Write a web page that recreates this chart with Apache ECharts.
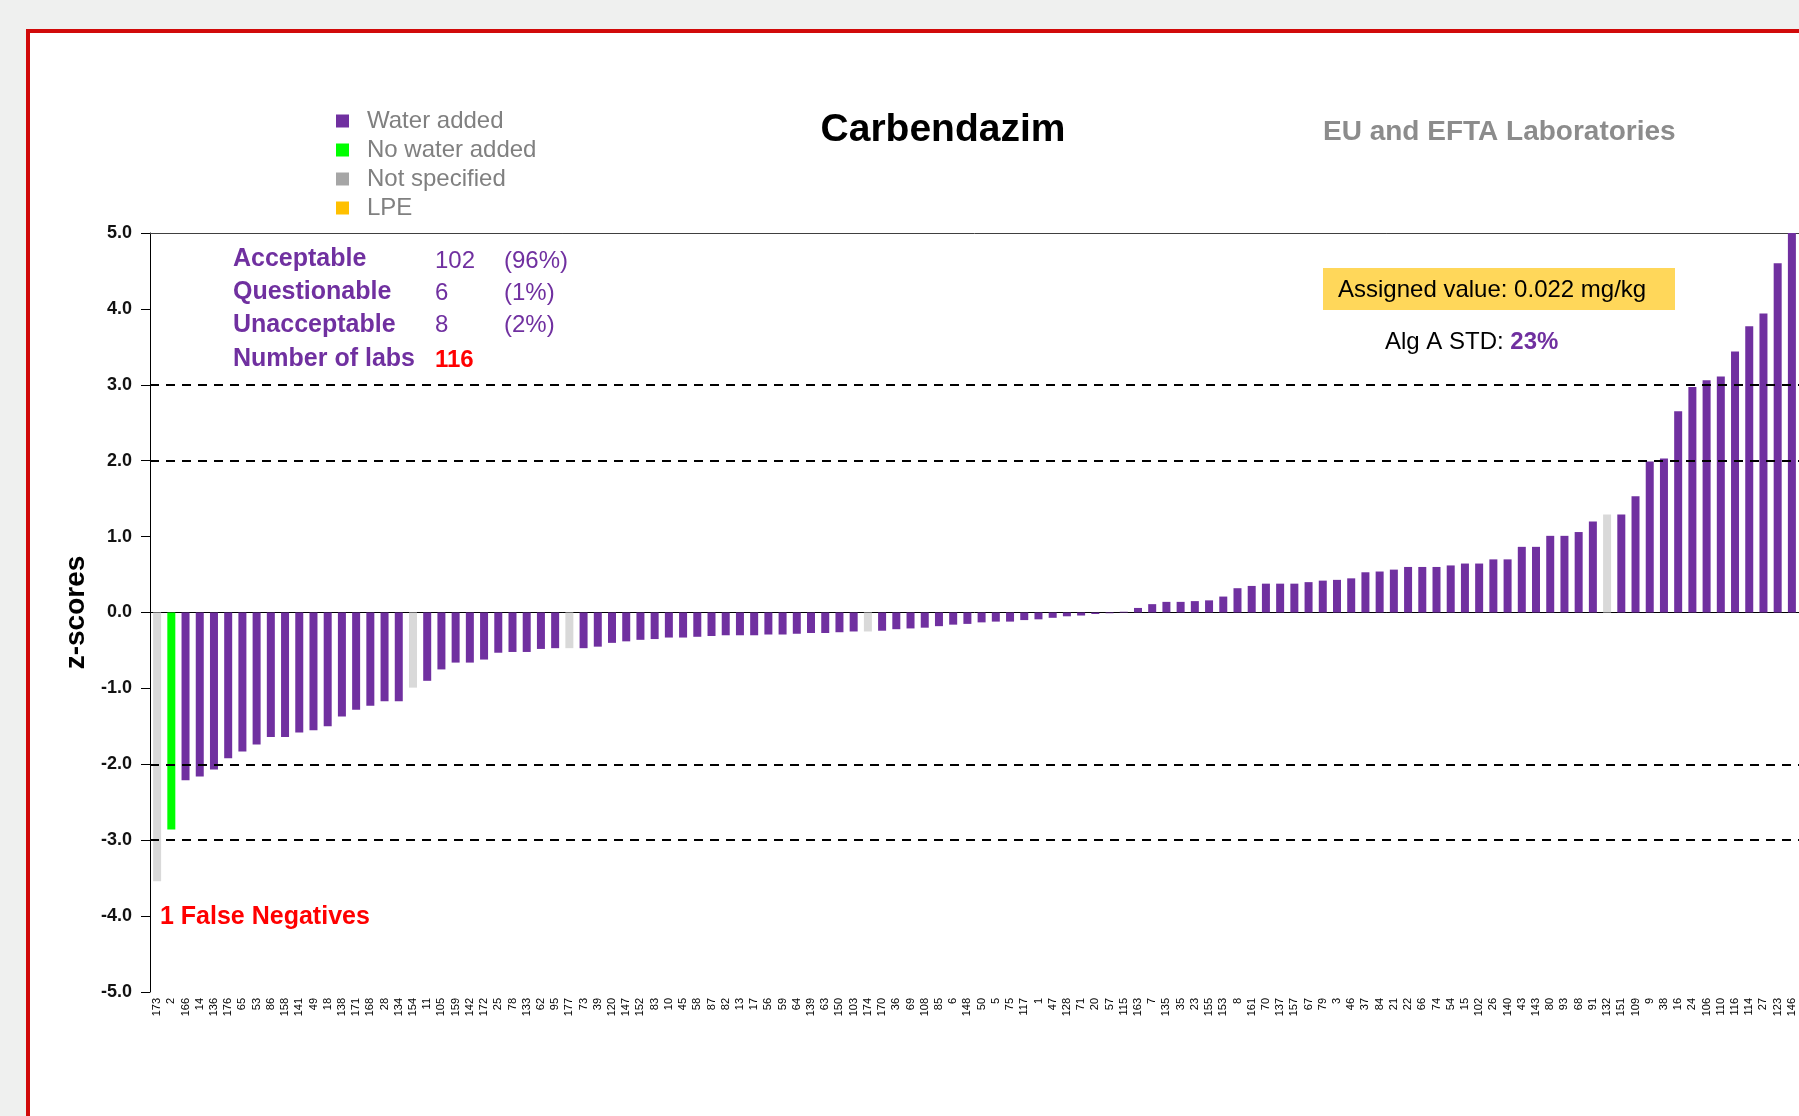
<!DOCTYPE html>
<html>
<head>
<meta charset="utf-8">
<title>Carbendazim z-scores</title>
<script src="https://cdn.jsdelivr.net/npm/echarts@6/dist/echarts.min.js"></script>
<style>
  html, body { margin: 0; padding: 0; background: #eff0ef; overflow: hidden; }
  #frame { position: absolute; left: 26px; top: 29px; width: 2000px; height: 2000px;
           background: #fff; border-left: 4px solid #d10a0a; border-top: 4px solid #d10a0a; }
  #main { position: absolute; left: 0; top: 0; width: 1799px; height: 1116px; }
</style>
</head>
<body>
<div id="frame"></div>
<div id="main"></div>
<script>
// lab codes, in the order of the bars
var labs = ['173','2','166','14','136','176','65','53','86','158','141','49','18','138','171','168','28','134','154','11',
  '105','159','142','172','25','78','133','62','95','177','73','39','120','147','152','83','10','45','58','87',
  '82','13','17','56','59','64','139','63','150','103','174','170','36','69','108','85','6','148','50','5',
  '75','117','1','47','128','71','20','57','115','163','7','135','35','23','155','153','8','161','70','137',
  '157','67','79','3','46','37','84','21','22','66','74','54','15','102','26','140','43','143','80','93',
  '68','91','132','151','109','9','38','16','24','106','110','116','114','27','123','146'];

// z-scores
var zScores = [-3.54,-2.86,-2.21,-2.16,-2.07,-1.92,-1.83,-1.74,-1.64,-1.64,-1.58,-1.55,-1.50,-1.37,-1.28,-1.23,-1.17,-1.17,-0.99,-0.90,
  -0.75,-0.66,-0.66,-0.62,-0.53,-0.52,-0.52,-0.48,-0.47,-0.47,-0.47,-0.45,-0.40,-0.38,-0.36,-0.35,-0.33,-0.33,-0.32,-0.31,
  -0.30,-0.30,-0.30,-0.29,-0.29,-0.28,-0.27,-0.27,-0.26,-0.25,-0.25,-0.24,-0.22,-0.21,-0.20,-0.18,-0.16,-0.15,-0.13,-0.12,
  -0.12,-0.10,-0.09,-0.07,-0.05,-0.04,-0.02,-0.01,0.01,0.06,0.11,0.14,0.14,0.15,0.16,0.21,0.32,0.35,0.38,0.38,
  0.38,0.40,0.42,0.43,0.45,0.53,0.54,0.565,0.60,0.60,0.60,0.62,0.645,0.645,0.70,0.70,0.865,0.865,1.01,1.01,
  1.06,1.20,1.29,1.29,1.53,1.99,2.03,2.65,2.97,3.06,3.11,3.44,3.77,3.94,4.60,5.00];

// W = water added, N = no water added, S = not specified, L = LPE
var groups = ['S','N','W','W','W','W','W','W','W','W','W','W','W','W','W','W','W','W','S','W',
  'W','W','W','W','W','W','W','W','W','S','W','W','W','W','W','W','W','W','W','W',
  'W','W','W','W','W','W','W','W','W','W','S','W','W','W','W','W','W','W','W','W',
  'W','W','W','W','W','W','W','W','W','W','W','W','W','W','W','W','W','W','W','W',
  'W','W','W','W','W','W','W','W','W','W','W','W','W','W','W','W','W','W','W','W',
  'W','W','S','W','W','W','W','W','W','W','W','W','W','W','W','W'];

var groupNames = ['Water added','No water added','Not specified','LPE'];
var groupKeys = ['W','N','S','L'];
var barColors = ['#7030a0','#00ff00','#d9d9d9','#ffc000'];
var legendColors = ['#7030a0','#00ff00','#a6a6a6','#ffc000'];
var limitLines = [3, 2, -2, -3];

var FONT = "'Liberation Sans', Arial, sans-serif";
var PURPLE = '#7030a0';

function groupData(key){
  var out = [];
  for (var i = 0; i < zScores.length; i++) {
    out.push(groups[i] === key ? zScores[i] : '-');
  }
  return out;
}

var series = [];
for (var g = 0; g < groupKeys.length; g++) {
  var s = {
    name: groupNames[g],
    type: 'bar',
    stack: 'z',
    barWidth: 8,
    itemStyle: {color: barColors[g]},
    data: groupData(groupKeys[g])
  };
  if (g === 0) {
    s.markLine = {
      silent: true,
      symbol: 'none',
      label: {show: false},
      lineStyle: {color: '#000', type: [9, 7], width: 2},
      data: limitLines.map(function(v){ return {yAxis: v}; })
    };
  }
  series.push(s);
}

var legendData = [];
for (var k = 0; k < groupNames.length; k++) {
  legendData.push({name: groupNames[k], icon: 'rect', itemStyle: {color: legendColors[k]}});
}

// text placed by its anchor point (x, y = left/centre or centre/centre)
function txt(x, y, text, font, color, align){
  return {
    type: 'text', x: x, y: y, z: 11,
    style: {text: text, font: font, fill: color, align: align || 'left', verticalAlign: 'middle'}
  };
}

var myChart = echarts.init(document.getElementById('main'));
var option = {
  animation: false,
  backgroundColor: 'transparent',
  grid: {left: 150, top: 233, right: -2, bottom: 124},
  legend: {
    orient: 'vertical',
    left: 336, top: 108,
    padding: 0,
    itemWidth: 13, itemHeight: 13, itemGap: 3,
    selectedMode: false,
    textStyle: {fontFamily: FONT, fontSize: 24, color: '#808080', lineHeight: 26, padding: [0, 0, 0, 13]},
    data: legendData
  },
  xAxis: [
    {
      type: 'category',
      data: labs,
      axisLine: {lineStyle: {color: '#000', width: 1}},
      axisTick: {show: false},
      axisLabel: {interval: 0, rotate: 90, fontFamily: FONT, fontSize: 11, color: '#000', margin: 6}
    },
    {
      // top frame line of the plot
      type: 'category',
      position: 'top',
      data: labs,
      axisLine: {show: true, lineStyle: {color: '#404040', width: 1}},
      axisTick: {show: false},
      axisLabel: {show: false}
    }
  ],
  yAxis: {
    type: 'value',
    min: -5, max: 5, interval: 1,
    name: 'z-scores',
    nameLocation: 'middle',
    nameGap: 55,
    nameTextStyle: {fontFamily: FONT, fontSize: 28, fontWeight: 'bold', color: '#000'},
    axisLine: {show: true, lineStyle: {color: '#000', width: 1}},
    axisTick: {show: true, inside: false, length: 9, lineStyle: {color: '#000'}},
    splitLine: {show: false},
    axisLabel: {
      fontFamily: FONT, fontSize: 18, fontWeight: 'bold', color: '#111', margin: 18,
      formatter: function(v){ return v.toFixed(1); }
    }
  },
  graphic: [
    txt(943, 130, 'Carbendazim', 'bold 39px ' + FONT, '#000', 'center'),
    txt(1323, 132, 'EU and EFTA Laboratories', 'bold 28px ' + FONT, '#8c8c8c'),
    txt(233, 259, 'Acceptable', 'bold 25px ' + FONT, PURPLE),
    txt(233, 292, 'Questionable', 'bold 25px ' + FONT, PURPLE),
    txt(233, 325, 'Unacceptable', 'bold 25px ' + FONT, PURPLE),
    txt(233, 359, 'Number of labs', 'bold 25px ' + FONT, PURPLE),
    txt(435, 261, '102', '24px ' + FONT, PURPLE),
    txt(435, 293, '6', '24px ' + FONT, PURPLE),
    txt(435, 325, '8', '24px ' + FONT, PURPLE),
    txt(435, 360, '116', 'bold 24px ' + FONT, '#ff0000'),
    txt(504, 261, '(96%)', '24px ' + FONT, PURPLE),
    txt(504, 293, '(1%)', '24px ' + FONT, PURPLE),
    txt(504, 325, '(2%)', '24px ' + FONT, PURPLE),
    {
      type: 'rect', x: 1323, y: 268, z: 10,
      shape: {width: 352, height: 42},
      style: {fill: '#ffd75a'}
    },
    txt(1338, 290, 'Assigned value: 0.022 mg/kg', '24px ' + FONT, '#000'),
    {
      type: 'text', x: 1385, y: 342, z: 11,
      style: {
        text: '{a|Alg A STD: }{b|23%}',
        verticalAlign: 'middle',
        rich: {
          a: {font: '24px ' + FONT, fill: '#000'},
          b: {font: 'bold 24px ' + FONT, fill: PURPLE}
        }
      }
    },
    txt(160, 917, '1 False Negatives', 'bold 25px ' + FONT, '#ff0000')
  ],
  series: series
};

myChart.setOption(option);
</script>
</body>
</html>
